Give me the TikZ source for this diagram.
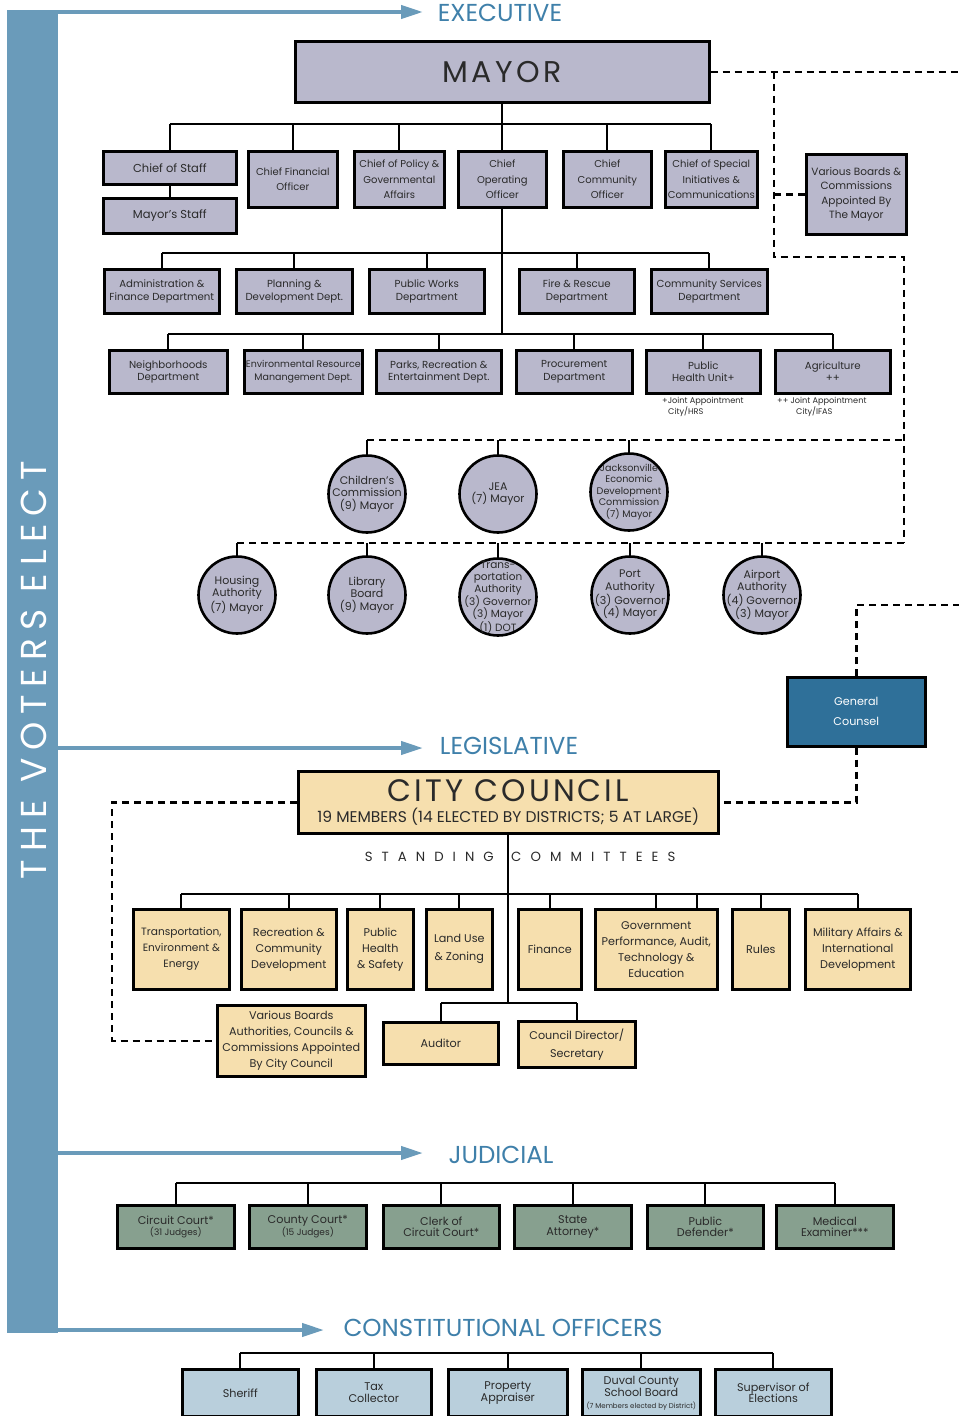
\documentclass[tikz,border=0pt]{standalone}
\usepackage{fontspec}
\setmainfont{Poppins}
\usetikzlibrary{arrows.meta}
\definecolor{lav}{HTML}{B9B8CC}
\definecolor{wheat}{HTML}{F6DFAE}
\definecolor{jgreen}{HTML}{87A08F}
\definecolor{lblue}{HTML}{B9CFDC}
\definecolor{gcblue}{HTML}{2F7099}
\definecolor{barblue}{HTML}{6A9BBA}
\definecolor{lblcol}{HTML}{3F80AA}
\definecolor{txt}{HTML}{2A2A2A}
\newcommand\mybox[7]{\node[#6,anchor=north west,minimum width={#4-#2},minimum height={#5-#3}] (#1) at (#2,#3) {#7};}
\tikzset{
 bx/.style={draw=black, line width=2.6pt, align=center, inner sep=0pt, text=txt},
 lavbox/.style={bx, fill=lav},
 wbox/.style={bx, fill=wheat},
 gbox/.style={bx, fill=jgreen},
 bbox/.style={bx, fill=lblue},
 rowone/.style={font=\fontsize{10}{15.5}\selectfont},
 rowdep/.style={font=\fontsize{10.2}{12.5}\selectfont},
 cir/.style={circle, draw=black, line width=2.6pt, fill=lav, minimum size=77pt, inner sep=-30pt, align=center, text=txt, font=\fontsize{11}{12.5}\selectfont},
 com/.style={font=\fontsize{11.2}{16}\selectfont},
 jud/.style={font=\fontsize{11.2}{11.5}\selectfont},
 con/.style={line width=2.2pt, black},
 dsh/.style={line width=2.4pt, black, dash pattern=on 7pt off 5pt},
 arr/.style={line width=4pt, barblue, -{Triangle[length=22pt,width=13pt]}},
 sect/.style={text=lblcol, font=\fontsize{24.5}{26}\selectfont, inner sep=0pt},
 note/.style={align=left, inner sep=0pt, text=txt, font=\fontsize{8.2}{11}\selectfont, anchor=north west},
}
\begin{document}
\begin{tikzpicture}[x=1pt,y=-1pt]
\useasboundingbox (0,0) rectangle (959,1416);
\fill[white] (0,0) rectangle (959,1416);

% voters bar
\node[fill=barblue, anchor=north west, minimum width=51pt, minimum height=1323pt, inner sep=0pt] (bar) at (7,10) {};
\node[rotate=90, text=white, font=\fontsize{36}{36}\selectfont\addfontfeatures{LetterSpace=22}] (voters) at (34,670) {THE VOTERS ELECT};

% section labels and arrows
\node[sect] (exec) at (500,13) {EXECUTIVE};
\node[sect] (leg) at (509,746) {LEGISLATIVE};
\node[sect] (jud) at (501,1155) {JUDICIAL};
\node[sect] (cons) at (503,1328) {CONSTITUTIONAL OFFICERS};
\coordinate (t1) at (423,12);
\coordinate (t2) at (423,748);
\coordinate (t3) at (423,1153);
\coordinate (t4) at (324,1330);
\draw[arr] (bar.east |- t1) -- (t1);
\draw[arr] (bar.east |- t2) -- (t2);
\draw[arr] (bar.east |- t3) -- (t3);
\draw[arr] (bar.east |- t4) -- (t4);

% ===== EXECUTIVE =====
\mybox{mayor}{294}{40}{708}{101}{lavbox,font=\fontsize{30}{30}\selectfont\addfontfeatures{LetterSpace=12}}{MAYOR}
\mybox{cos}{102}{150}{235}{183}{lavbox,font=\fontsize{11.5}{14}\selectfont}{Chief of Staff}
\mybox{mstaff}{102}{197}{235}{232}{lavbox,font=\fontsize{11.5}{14}\selectfont}{Mayor’s Staff}
\mybox{cfo}{247}{150}{336}{206}{lavbox,rowone}{Chief Financial\\Officer}
\mybox{cpol}{353}{150}{443}{206}{lavbox,rowone}{Chief of Policy \&\\Governmental\\Affairs}
\mybox{coo}{457}{150}{545}{206}{lavbox,rowone}{Chief\\Operating\\Officer}
\mybox{cco}{562}{150}{650}{206}{lavbox,rowone}{Chief\\Community\\Officer}
\mybox{csi}{664}{150}{756}{206}{lavbox,rowone}{Chief of Special\\Initiatives \&\\Communications}
\mybox{vbm}{805}{153}{905}{233}{lavbox,font=\fontsize{10.5}{14.5}\selectfont}{Various Boards \&\\Commissions\\Appointed By\\The Mayor}

\mybox{admin}{103}{268}{218}{312}{lavbox,rowdep}{Administration \&\\Finance Department}
\mybox{plan}{235}{268}{351}{312}{lavbox,rowdep}{Planning \&\\Development Dept.}
\mybox{pw}{368}{268}{483}{312}{lavbox,rowdep}{Public Works\\Department}
\mybox{fire}{518}{268}{633}{312}{lavbox,rowdep}{Fire \& Rescue\\Department}
\mybox{comm}{650}{268}{766}{312}{lavbox,rowdep}{Community Services\\Department}

\mybox{nbh}{108}{349}{226}{392}{lavbox,rowdep}{Neighborhoods\\Department}
\mybox{env}{243}{349}{361}{392}{lavbox,font=\fontsize{9.5}{12.5}\selectfont}{Environmental Resource\\Manangement Dept.}
\mybox{parks}{375}{349}{500}{392}{lavbox,rowdep}{Parks, Recreation \&\\Entertainment Dept.}
\mybox{proc}{515}{349}{631}{392}{lavbox,rowdep}{Procurement\\Department}
\mybox{ph}{645}{349}{759}{392}{lavbox,rowdep}{Public\\Health Unit+}
\mybox{agri}{774}{349}{889}{392}{lavbox,rowdep}{Agriculture\\++}
\node[note] (fn1) at (662,397) {+Joint Appointment\\\hspace*{6pt}City/HRS};
\node[note] (fn2) at (777,397) {++ Joint Appointment\\\hspace*{19pt}City/IFAS};

% circles
\node[cir] (chc) at (367,494) {Children’s\\Commission\\(9) Mayor};
\node[cir] (jea) at (498,494) {JEA\\(7) Mayor};
\node[cir, font=\fontsize{9.6}{11.5}\selectfont] (jedc) at (629,492) {Jacksonville\\Economic\\Development\\Commission\\(7) Mayor};
\node[cir] (hous) at (237,595) {Housing\\Authority\\(7) Mayor};
\node[cir] (lib) at (367,595) {Library\\Board\\(9) Mayor};
\node[cir, font=\fontsize{10.5}{12}\selectfont] (tra) at (498,597) {Trans-\\portation\\Authority\\(3) Governor\\(3) Mayor\\(1) DOT};
\node[cir] (port) at (630,595) {Port\\Authority\\(3) Governor\\(4) Mayor};
\node[cir] (air) at (762,595) {Airport\\Authority\\(4) Governor\\(3) Mayor};

% executive connectors
\coordinate (eb) at (0,124);
\coordinate (r2b) at (0,253);
\coordinate (r3b) at (0,334);
\draw[con] (mayor.south) -- (mayor.south |- eb);
\draw[con] (cos.north |- eb) -- (csi.north |- eb);
\foreach \n in {cos,cfo,cpol,coo,cco,csi} \draw[con] (\n.north) -- (\n.north |- eb);
\draw[con] (cos) -- (mstaff);
\draw[con] (coo.south) -- (coo.south |- r3b);
\draw[con] (admin.north |- r2b) -- (comm.north |- r2b);
\foreach \n in {admin,plan,pw,fire,comm} \draw[con] (\n.north) -- (\n.north |- r2b);
\draw[con] (nbh.north |- r3b) -- (agri.north |- r3b);
\foreach \n in {nbh,env,parks,proc,ph,agri} \draw[con] (\n.north) -- (\n.north |- r3b);

% dashed appointment lines
\coordinate (redge) at (959,0);
\coordinate (k1) at (774,257);
\coordinate (k2) at (904,257);
\coordinate (k3) at (904,543);
\coordinate (k4) at (904,440);
\draw[dsh] (mayor.east) -- (mayor.east -| redge);
\draw[dsh] (mayor.east -| k1) -- (k1) -- (k2) -- (k3);
\draw[dsh] (vbm.west) -- (vbm.west -| k1);
\draw[dsh] (chc.north |- k4) -- (k4);
\draw[dsh] (hous.north |- k3) -- (k3);
\foreach \n in {chc,jea,jedc} \draw[con] (\n.north) -- (\n.north |- k4);
\foreach \n in {hous,lib,tra,port,air} \draw[con] (\n.north) -- (\n.north |- k3);

% ===== LEGISLATIVE =====
\mybox{gc}{786}{676}{924}{745}{bx,fill=gcblue,text=white,font=\fontsize{11.2}{20}\selectfont}{General\\Counsel}
\mybox{cc}{297}{770}{717}{832}{wbox,font=\fontsize{15.5}{21}\selectfont}{{\fontsize{31}{21}\selectfont\addfontfeatures{LetterSpace=10}CITY COUNCIL}\\{\fontsize{15.5}{21}\selectfont 19 MEMBERS (14 ELECTED BY DISTRICTS; 5 AT LARGE)}}
\coordinate (k5) at (959,605);
\coordinate (k6) at (112,0);
\draw[dsh] (gc.north) |- (k5);
\draw[dsh] (gc.south) |- (cc.east);

\node[anchor=east, inner sep=0pt, text=txt, font=\fontsize{13.3}{14}\selectfont\addfontfeatures{LetterSpace=68}] (stand) at (494,857) {STANDING};
\node[anchor=west, inner sep=0pt, text=txt, font=\fontsize{13.3}{14}\selectfont\addfontfeatures{LetterSpace=68}] (commt) at (511,857) {COMMITTEES};

\mybox{trc}{132}{908}{228}{988}{wbox,font=\fontsize{10.6}{16}\selectfont}{Transportation,\\Environment \&\\Energy}
\mybox{rec}{240}{908}{335}{988}{wbox,com}{Recreation \&\\Community\\Development}
\mybox{phs}{346}{908}{412}{988}{wbox,com}{Public\\Health\\\& Safety}
\mybox{land}{425}{908}{491}{988}{wbox,font=\fontsize{11.2}{18}\selectfont}{Land Use\\\& Zoning}
\mybox{fin}{517}{908}{580}{988}{wbox,com}{Finance}
\mybox{gp}{594}{908}{716}{988}{wbox,com}{Government\\Performance, Audit,\\Technology \&\\Education}
\mybox{rules}{731}{908}{788}{988}{wbox,com}{Rules}
\mybox{mil}{804}{908}{909}{988}{wbox,com}{Military Affairs \&\\International\\Development}
\mybox{vbc}{216}{1004}{364}{1075}{wbox,com}{Various Boards\\Authorities, Councils \&\\Commissions Appointed\\By City Council}
\mybox{aud}{382}{1021}{497}{1063}{wbox,com}{Auditor}
\mybox{cds}{517}{1020}{634}{1066}{wbox,font=\fontsize{11.2}{18}\selectfont}{Council Director/\\Secretary}

\draw[dsh] (cc.west) -| (vbc.west -| k6) -- (vbc.west);

\coordinate (lb1) at (0,894);
\coordinate (lb2) at (0,1003);
\draw[con] (cc.south) -- (cc.south |- lb2);
\draw[con] (trc.north |- lb1) -- (mil.north |- lb1);
\foreach \n in {trc,rec,phs,land,fin,gp,rules,mil} \draw[con] (\n.north) -- (\n.north |- lb1);
\draw[con] ([xshift=41pt]gp.north) -- ([xshift=41pt]gp.north |- lb1);
\draw[con] (aud.north |- lb2) -- (cds.north |- lb2);
\foreach \n in {aud,cds} \draw[con] (\n.north) -- (\n.north |- lb2);

% ===== JUDICIAL =====
\mybox{circ}{116}{1204}{233}{1247}{gbox,jud}{Circuit Court*\\{\fontsize{9}{9}\selectfont (31 Judges)}}
\mybox{cty}{248}{1204}{365}{1247}{gbox,jud}{County Court*\\{\fontsize{9}{9}\selectfont (15 Judges)}}
\mybox{clerk}{382}{1204}{498}{1247}{gbox,jud}{Clerk of\\Circuit Court*}
\mybox{sa}{513}{1204}{630}{1247}{gbox,jud}{State\\Attorney*}
\mybox{pd}{646}{1204}{762}{1247}{gbox,jud}{Public\\Defender*}
\mybox{me}{775}{1204}{892}{1247}{gbox,jud}{Medical\\Examiner***}
\coordinate (jb) at (0,1183);
\draw[con] (circ.north |- jb) -- (me.north |- jb);
\foreach \n in {circ,cty,clerk,sa,pd,me} \draw[con] (\n.north) -- (\n.north |- jb);

% ===== CONSTITUTIONAL =====
\mybox{sher}{181}{1368}{297}{1415}{bbox,jud}{Sheriff}
\mybox{tax}{315}{1368}{430}{1415}{bbox,jud}{Tax\\Collector}
\mybox{prop}{447}{1368}{566}{1415}{bbox,jud}{Property\\Appraiser}
\mybox{duval}{581}{1368}{699}{1415}{bbox,font=\fontsize{11.2}{12}\selectfont}{Duval County\\School Board\\{\fontsize{7}{8}\selectfont (7 Members elected by District)}}
\mybox{sup}{714}{1368}{830}{1415}{bbox,jud}{Supervisor of\\Elections}
\coordinate (cb) at (0,1353);
\draw[con] (sher.north |- cb) -- (sup.north |- cb);
\foreach \n in {sher,tax,prop,duval,sup} \draw[con] (\n.north) -- (\n.north |- cb);
\end{tikzpicture}
\end{document}
